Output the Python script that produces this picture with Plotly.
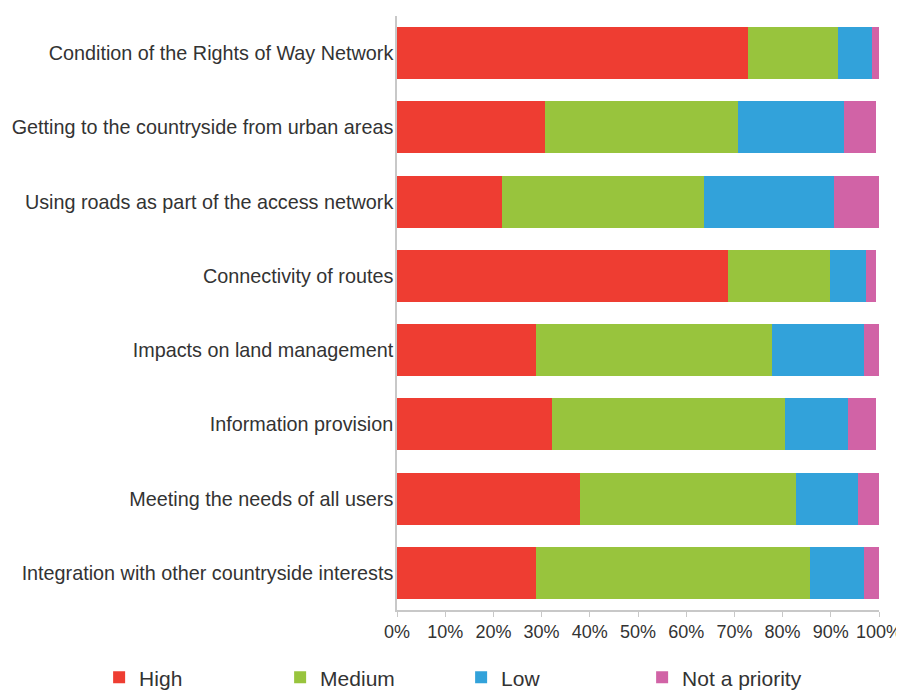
import plotly.graph_objects as go

categories = [
    "Condition of the Rights of Way Network",
    "Getting to the countryside from urban areas",
    "Using roads as part of the access network",
    "Connectivity of routes",
    "Impacts on land management",
    "Information provision",
    "Meeting the needs of all users",
    "Integration with other countryside interests",
]

high = [72.8, 30.8, 21.7, 68.6, 28.8, 32.1, 37.9, 28.8]
medium = [18.6, 39.9, 41.9, 21.2, 48.9, 48.5, 44.8, 56.8]
low = [7.1, 22.0, 27.0, 7.4, 19.1, 13.0, 12.9, 11.2]
not_priority = [1.5, 6.6, 9.4, 2.1, 3.2, 5.7, 4.4, 3.2]

series_names = ["High", "Medium", "Low", "Not a priority"]
series_values = [high, medium, low, not_priority]
series_colors = ["#EE3D32", "#98C43D", "#32A2DA", "#D163A6"]

tick_values = [0, 10, 20, 30, 40, 50, 60, 70, 80, 90, 100]
tick_labels = ["0%", "10%", "20%", "30%", "40%", "50%", "60%", "70%", "80%", "90%", "100%"]

fig = go.Figure()
for name, vals, col in zip(series_names, series_values, series_colors):
    fig.add_trace(go.Bar(
        y=categories, x=vals, name=name, orientation="h",
        marker=dict(color=col, line=dict(width=0)),
    ))

fig.update_layout(
    width=904, height=690,
    barmode="stack", bargap=0.3,
    plot_bgcolor="white", paper_bgcolor="white",
    margin=dict(l=389, r=33, t=8, b=88, autoexpand=False),
    font=dict(family="Liberation Sans, Arial, sans-serif", color="#333333"),
    legend=dict(
        orientation="h", x=-0.618, xanchor="left", y=-0.114, yanchor="middle",
        entrywidth=136, entrywidthmode="pixels",
        font=dict(size=21, family="Liberation Sans, Arial", color="#333333"),
        traceorder="normal",
    ),
)
fig.update_xaxes(
    range=[0, 100], tickvals=tick_values, ticktext=tick_labels,
    showgrid=False, zeroline=False,
    showline=True, linecolor="#c8c8c8", linewidth=1.5,
    ticks="outside", ticklen=5, tickcolor="#c8c8c8",
    tickfont=dict(size=18, color="#333333"),
)
fig.update_yaxes(
    autorange="reversed", showgrid=False, zeroline=False,
    showline=True, linecolor="#c8c8c8", linewidth=1.5,
    ticks="", tickfont=dict(size=19.8, color="#333333"),
    ticklabelstandoff=-2,
)

fig.write_html("out.html")
